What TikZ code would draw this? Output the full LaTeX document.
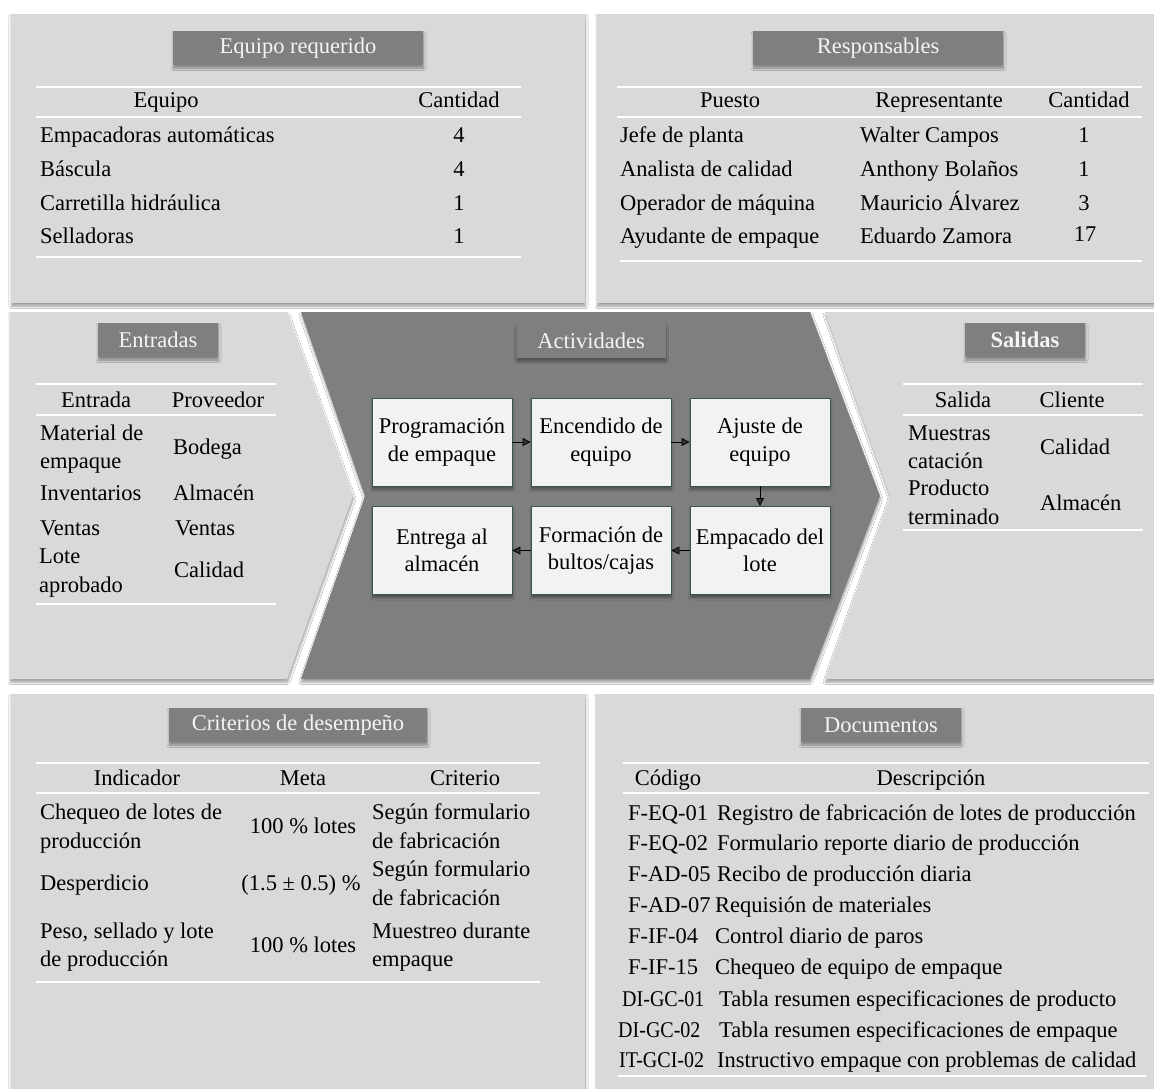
\documentclass[tikz,border=0pt]{standalone}
\usepackage{fontspec}
\setmainfont{Liberation Serif}
\usetikzlibrary{shadows.blur,arrows.meta}
\definecolor{panelgray}{HTML}{D9D9D9}
\definecolor{darkgray}{HTML}{7F7F7F}
\definecolor{boxfill}{HTML}{F2F2F2}
\definecolor{boxedge}{HTML}{355555}
\definecolor{hdrtext}{HTML}{F4F4F4}
\newcommand{\tfont}{\fontsize{22.5}{27.5}\selectfont}
\newcommand{\narrow}[1]{\scalebox{0.89}[1]{#1}}
\begin{document}
\begin{tikzpicture}[x=1pt,y=-1pt,
  softshadow/.style={blur shadow={shadow xshift=0.5pt,shadow yshift=-3pt,
      shadow blur radius=2.5pt,shadow blur steps=6,shadow opacity=40}},
  panel/.style={fill=panelgray,softshadow},
  hdr/.style={fill=darkgray,text=hdrtext,minimum height=34,inner sep=0pt,
      font=\tfont,softshadow},
  cell/.style={anchor=base west,inner sep=0pt,font=\tfont},
  ctr/.style={anchor=base,inner sep=0pt,font=\tfont},
  tabrule/.style={draw=white,line width=1.6pt},
  act/.style={fill=boxfill,draw=boxedge,line width=0.9pt,minimum width=140,
      minimum height=88,inner sep=2pt,align=center,font=\tfont,softshadow},
  flow/.style={-{Triangle[length=8pt,width=8pt]},line width=0.8pt}]

\useasboundingbox[fill=white] (0,0) rectangle (1154,1089);

% ---- panels ----
\path[panel] (11,14) rectangle (585,303);
\path[panel] (597,14) rectangle (1158,303);
\path[panel] (10,312) -- (287,312) -- (353,496) -- (287,679) -- (10,679) -- cycle;
\path[panel,fill=darkgray] (301,312) -- (810,312) -- (880,496) -- (810,679)
      -- (301,679) -- (365,496) -- cycle;
\path[panel] (825,312) -- (1158,312) -- (1158,679) -- (825,679) -- (890,496) -- cycle;
\path[panel] (11,694) rectangle (585,1095);
\path[panel] (596,694) rectangle (1158,1095);

% ---- headers ----
\node[hdr,minimum width=250] (hEq) at (298,48) {Equipo requerido};
\node[hdr,minimum width=250] (hRe) at (878,48) {Responsables};
\node[hdr,minimum width=120] (hEn) at (158,340) {Entradas};
\node[hdr,minimum width=149] (hAc) at (591,341) {Actividades};
\node[hdr,minimum width=120] (hSa) at (1025,340) {\bfseries Salidas};
\node[hdr,minimum width=258] (hCr) at (298,725) {Criterios de desempeño};
\node[hdr,minimum width=160] (hDo) at (881,725) {Documentos};

% ---- Equipo requerido ----
\draw[tabrule] (36,87) -- (521,87);
\draw[tabrule] (36,117) -- (521,117);
\draw[tabrule] (36,257) -- (521,257);
\node[ctr] (eqH1) at (166,107.5) {Equipo};
\node[ctr] (eqH2) at (459,107.5) {Cantidad};
\node[cell] (eqA1) at (40,142.5) {Empacadoras automáticas};
\node[cell] (eqA2) at (40,176.5) {Báscula};
\node[cell] (eqA3) at (40,210.5) {Carretilla hidráulica};
\node[cell] (eqA4) at (40,243.5) {Selladoras};
\node[ctr] (eqB1) at (459,142.5) {4};
\node[ctr] (eqB2) at (459,176.5) {4};
\node[ctr] (eqB3) at (459,210.5) {1};
\node[ctr] (eqB4) at (459,243.5) {1};

% ---- Responsables ----
\draw[tabrule] (617,87) -- (1142,87);
\draw[tabrule] (617,117) -- (1142,117);
\draw[tabrule] (620,261) -- (1142,261);
\node[ctr] (reH1) at (730,107.5) {Puesto};
\node[ctr] (reH2) at (939,107.5) {Representante};
\node[ctr] (reH3) at (1089,107.5) {Cantidad};
\node[cell] (reA1) at (620,142.5) {Jefe de planta};
\node[cell] (reA2) at (620,176.5) {Analista de calidad};
\node[cell] (reA3) at (620,210.5) {Operador de máquina};
\node[cell] (reA4) at (620,243.5) {Ayudante de empaque};
\node[cell] (reB1) at (860,142.5) {Walter Campos};
\node[cell] (reB2) at (860,176.5) {Anthony Bolaños};
\node[cell] (reB3) at (860,210.5) {Mauricio Álvarez};
\node[cell] (reB4) at (860,243.5) {Eduardo Zamora};
\node[ctr] (reC1) at (1084,142.5) {1};
\node[ctr] (reC2) at (1084,176.5) {1};
\node[ctr] (reC3) at (1084,210.5) {3};
\node[ctr] (reC4) at (1085,241.5) {17};

% ---- Entradas ----
\draw[tabrule] (36,384) -- (276,384);
\draw[tabrule] (36,415) -- (276,415);
\draw[tabrule] (36,604) -- (276,604);
\node[ctr] (enH1) at (96,407.5) {Entrada};
\node[ctr] (enH2) at (218,407.5) {Proveedor};
\node[cell] (enA1) at (40,440.5) {Material de};
\node[cell] (enA1b) at (40,468.5) {empaque};
\node[cell] (enA2) at (40,500.5) {Inventarios};
\node[cell] (enA3) at (40,535.5) {Ventas};
\node[cell] (enA4) at (39,563.5) {Lote};
\node[cell] (enA4b) at (39,592.5) {aprobado};
\node[cell] (enB1) at (173,454.5) {Bodega};
\node[cell] (enB2) at (173,500.5) {Almacén};
\node[cell] (enB3) at (175,535.5) {Ventas};
\node[cell] (enB4) at (174,577.5) {Calidad};

% ---- Salidas ----
\draw[tabrule] (903,384) -- (1143,384);
\draw[tabrule] (903,415) -- (1143,415);
\draw[tabrule] (903,530) -- (1143,530);
\node[ctr] (saH1) at (963,407.5) {Salida};
\node[ctr] (saH2) at (1072,407.5) {Cliente};
\node[cell] (saA1) at (908,440.5) {Muestras};
\node[cell] (saA1b) at (908,468.5) {catación};
\node[cell] (saA2) at (908,495.5) {Producto};
\node[cell] (saA2b) at (908,524.5) {terminado};
\node[cell] (saB1) at (1040,454.5) {Calidad};
\node[cell] (saB2) at (1040,510.5) {Almacén};

% ---- Actividades ----
\node[act] (a1) at (442,442) {Programación\\de empaque};
\node[act] (a2) at (601,442) {Encendido de\\equipo};
\node[act] (a3) at (760,442) {Ajuste de\\equipo};
\node[act] (a4) at (760,550.5) {Empacado del\\lote};
\node[act] (a5) at (601,550.5) {Formación de\\bultos/cajas};
\node[act] (a6) at (442,550.5) {Entrega al\\almacén};
\draw[flow] (a1) -- (a2);
\draw[flow] (a2) -- (a3);
\draw[flow] (a3) -- (a4);
\draw[flow] (a4) -- (a5);
\draw[flow] (a5) -- (a6);

% ---- Criterios de desempeño ----
\draw[tabrule] (36,763) -- (540,763);
\draw[tabrule] (36,793) -- (540,793);
\draw[tabrule] (36,982) -- (540,982);
\node[ctr] (crH1) at (137,785.5) {Indicador};
\node[ctr] (crH2) at (303,785.5) {Meta};
\node[ctr] (crH3) at (465,785.5) {Criterio};
\node[cell] (crA1) at (40,819.5) {Chequeo de lotes de};
\node[cell] (crA1b) at (40,848.5) {producción};
\node[cell] (crA2) at (40,890.5) {Desperdicio};
\node[cell] (crA3) at (40,938.5) {Peso, sellado y lote};
\node[cell] (crA3b) at (40,966.5) {de producción};
\node[ctr] (crB1) at (303,833.5) {100 \% lotes};
\node[ctr] (crB2) at (301,890.5) {(1.5 ± 0.5) \%};
\node[ctr] (crB3) at (303,952.5) {100 \% lotes};
\node[cell] (crC1) at (372,819.5) {Según formulario};
\node[cell] (crC1b) at (372,848.5) {de fabricación};
\node[cell] (crC2) at (372,876.5) {Según formulario};
\node[cell] (crC2b) at (372,905.5) {de fabricación};
\node[cell] (crC3) at (372,938.5) {Muestreo durante};
\node[cell] (crC3b) at (372,966.5) {empaque};

% ---- Documentos ----
\draw[tabrule] (623,763) -- (1149,763);
\draw[tabrule] (623,793) -- (1149,793);
\draw[tabrule] (618,1076) -- (1146,1076);
\node[ctr] (doH1) at (668,785.5) {Código};
\node[ctr] (doH2) at (931,785.5) {Descripción};
\node[cell] (doA1) at (628,820.5) {F-EQ-01};
\node[cell] (doA2) at (628,850.5) {F-EQ-02};
\node[cell] (doA3) at (628,881.5) {F-AD-05};
\node[cell] (doA4) at (628,912.5) {F-AD-07};
\node[cell] (doA5) at (628,943.5) {F-IF-04};
\node[cell] (doA6) at (628,974.5) {F-IF-15};
\node[cell] (doA7) at (622,1006.5) {\narrow{DI-GC-01}};
\node[cell] (doA8) at (618,1037.5) {\narrow{DI-GC-02}};
\node[cell] (doA9) at (619,1067.5) {\narrow{IT-GCI-02}};
\node[cell] (doB1) at (717,820.5) {Registro de fabricación de lotes de producción};
\node[cell] (doB2) at (717,850.5) {Formulario reporte diario de producción};
\node[cell] (doB3) at (717,881.5) {Recibo de producción diaria};
\node[cell] (doB4) at (715,912.5) {Requisión de materiales};
\node[cell] (doB5) at (715,943.5) {Control diario de paros};
\node[cell] (doB6) at (715,974.5) {Chequeo de equipo de empaque};
\node[cell] (doB7) at (719,1006.5) {Tabla resumen especificaciones de producto};
\node[cell] (doB8) at (719,1037.5) {Tabla resumen especificaciones de empaque};
\node[cell] (doB9) at (717,1067.5) {Instructivo empaque con problemas de calidad};
\end{tikzpicture}
\end{document}
